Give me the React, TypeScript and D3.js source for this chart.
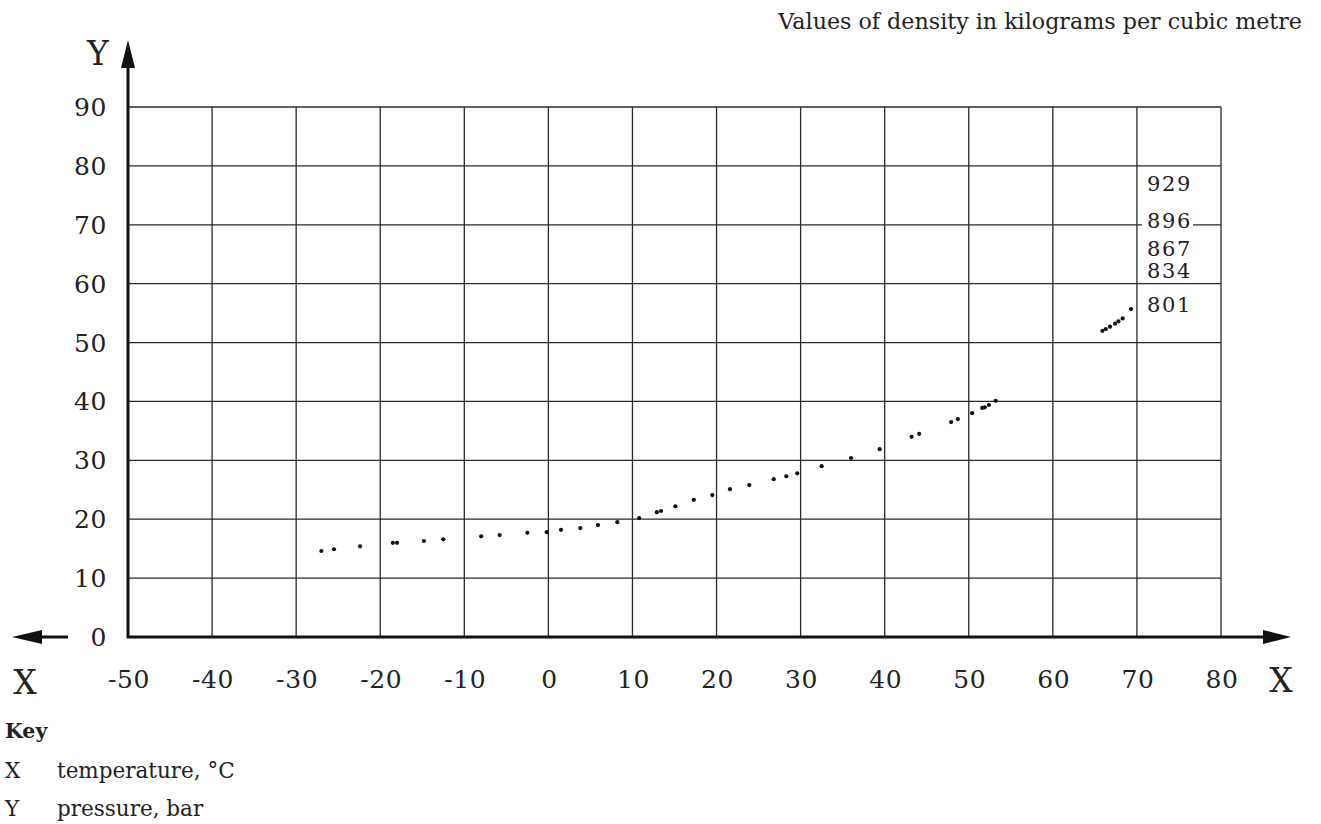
import { useEffect, useRef } from 'react';
import * as d3 from 'd3';

// temperature (°C) and pressure (bar)
const temps = [
  -27.0, -25.5, -22.4, -18.5, -18.0, -14.8, -12.5, -8.0, -5.8, -2.5, -0.2, 1.5, 3.8, 5.9, 8.2,
  10.8, 12.9, 13.4, 15.1, 17.3, 19.5, 21.6, 23.9, 26.8, 28.3, 29.6, 32.5, 36.0, 39.4, 43.2, 44.1,
  47.9, 48.7, 50.4, 51.6, 51.9, 52.4, 53.2,
  65.9, 66.3, 66.8, 67.4, 67.8, 68.3, 69.3,
];
const pressures = [
  14.6, 14.9, 15.4, 16.0, 16.0, 16.3, 16.6, 17.1, 17.3, 17.7, 17.8, 18.2, 18.5, 19.0, 19.5,
  20.2, 21.2, 21.4, 22.2, 23.3, 24.1, 25.1, 25.8, 26.8, 27.3, 27.8, 29.0, 30.4, 31.9, 34.0, 34.5,
  36.5, 37.0, 38.0, 38.9, 39.0, 39.4, 40.1,
  52.0, 52.3, 52.7, 53.2, 53.6, 54.1, 55.7,
];
const xTicks = [-50, -40, -30, -20, -10, 0, 10, 20, 30, 40, 50, 60, 70, 80];
const yTicks = [0, 10, 20, 30, 40, 50, 60, 70, 80, 90];
const densityLabels = ['929', '896', '867', '834', '801'];
const densityLevels = [77.1, 70.8, 66.0, 62.2, 56.5];
const keyRows = [['X', 'temperature, °C'], ['Y', 'pressure, bar']];

const W = 1321, H = 824;
const serif = '"DejaVu Serif", "Liberation Serif", serif';

export default function App() {
  const svgRef = useRef<SVGSVGElement>(null);

  useEffect(() => {
    const svg = d3.select(svgRef.current).attr('width', W).attr('height', H);
    svg.selectAll('*').remove();

    const x = d3.scaleLinear().domain([-50, 80]).range([128, 1221]);
    const y = d3.scaleLinear().domain([0, 90]).range([637, 107]);

    const g = svg.append('g');

    // grid
    g.selectAll('line.vx').data(xTicks.slice(1)).enter().append('line')
      .attr('x1', d => x(d)).attr('x2', d => x(d))
      .attr('y1', y(0)).attr('y2', y(90))
      .attr('stroke', '#2a2a2a').attr('stroke-width', 1.3);
    g.selectAll('line.hy').data(yTicks.slice(1)).enter().append('line')
      .attr('x1', x(-50)).attr('x2', x(80))
      .attr('y1', d => y(d)).attr('y2', d => y(d))
      .attr('stroke', '#2a2a2a').attr('stroke-width', 1.3);

    // axes with arrowheads
    g.append('line').attr('x1', x(-50)).attr('x2', x(-50)).attr('y1', y(0) + 1).attr('y2', 66)
      .attr('stroke', '#111').attr('stroke-width', 3);
    g.append('path').attr('d', `M${x(-50)},40 L${x(-50) - 7},68 L${x(-50) + 7},68 Z`).attr('fill', '#111');
    g.append('line').attr('x1', x(-50) - 1).attr('x2', 1264).attr('y1', y(0)).attr('y2', y(0))
      .attr('stroke', '#111').attr('stroke-width', 3);
    g.append('path').attr('d', `M1291,${y(0)} L1263,${y(0) - 7} L1263,${y(0) + 7} Z`).attr('fill', '#111');
    g.append('line').attr('x1', 40).attr('x2', 68).attr('y1', y(0)).attr('y2', y(0))
      .attr('stroke', '#111').attr('stroke-width', 3);
    g.append('path').attr('d', `M12,${y(0)} L42,${y(0) - 7} L42,${y(0) + 7} Z`).attr('fill', '#111');

    const txt = (sel: any) => sel.attr('font-family', serif).attr('fill', '#222');

    // tick labels
    g.selectAll('text.xt').data(xTicks).enter().append('text').call(txt)
      .attr('x', d => x(d) + 1).attr('y', 688).attr('text-anchor', 'middle')
      .attr('font-size', 25).attr('letter-spacing', 0.6).text(d => String(d));
    g.selectAll('text.yt').data(yTicks).enter().append('text').call(txt)
      .attr('x', 107).attr('y', d => y(d) + 9).attr('text-anchor', 'end')
      .attr('font-size', 25).attr('letter-spacing', 0.6).text(d => String(d));

    // axis letters
    g.append('text').call(txt).attr('x', 98).attr('y', 65).attr('text-anchor', 'middle')
      .attr('font-size', 33).text('Y');
    g.append('text').call(txt).attr('x', 25).attr('y', 694).attr('text-anchor', 'middle')
      .attr('font-size', 33).text('X');
    g.append('text').call(txt).attr('x', 1281).attr('y', 692).attr('text-anchor', 'middle')
      .attr('font-size', 33).text('X');

    // density labels with white backing
    densityLabels.forEach((lab, i) => {
      const cy = y(densityLevels[i]);
      g.append('rect').attr('x', 1142).attr('y', cy - 10).attr('width', 51).attr('height', 20)
        .attr('fill', '#fff');
      g.append('text').call(txt).attr('x', 1147).attr('y', cy + 7.6)
        .attr('font-size', 21).attr('letter-spacing', 1.7).text(lab);
    });

    // points
    g.selectAll('circle').data(temps.map((t, i) => [t, pressures[i]])).enter().append('circle')
      .attr('cx', d => x(d[0])).attr('cy', d => y(d[1])).attr('r', 2.1).attr('fill', '#111');

    // title
    g.append('text').call(txt).attr('x', 1302).attr('y', 29).attr('text-anchor', 'end')
      .attr('font-size', 22.2).text('Values of density in kilograms per cubic metre');

    // key
    g.append('text').call(txt).attr('x', 5).attr('y', 738).attr('font-size', 20.5)
      .attr('font-weight', 'bold').text('Key');
    keyRows.forEach((r, i) => {
      g.append('text').call(txt).attr('x', 5).attr('y', 778 + i * 38).attr('font-size', 21.5).text(r[0]);
      g.append('text').call(txt).attr('x', 57).attr('y', 778 + i * 38).attr('font-size', 21.5).text(r[1]);
    });
  }, []);

  return (
    <div style={{ position: 'absolute', left: 0, top: 0, width: W, height: H, background: '#fff' }}>
      <svg ref={svgRef} style={{ display: 'block' }} />
    </div>
  );
}
